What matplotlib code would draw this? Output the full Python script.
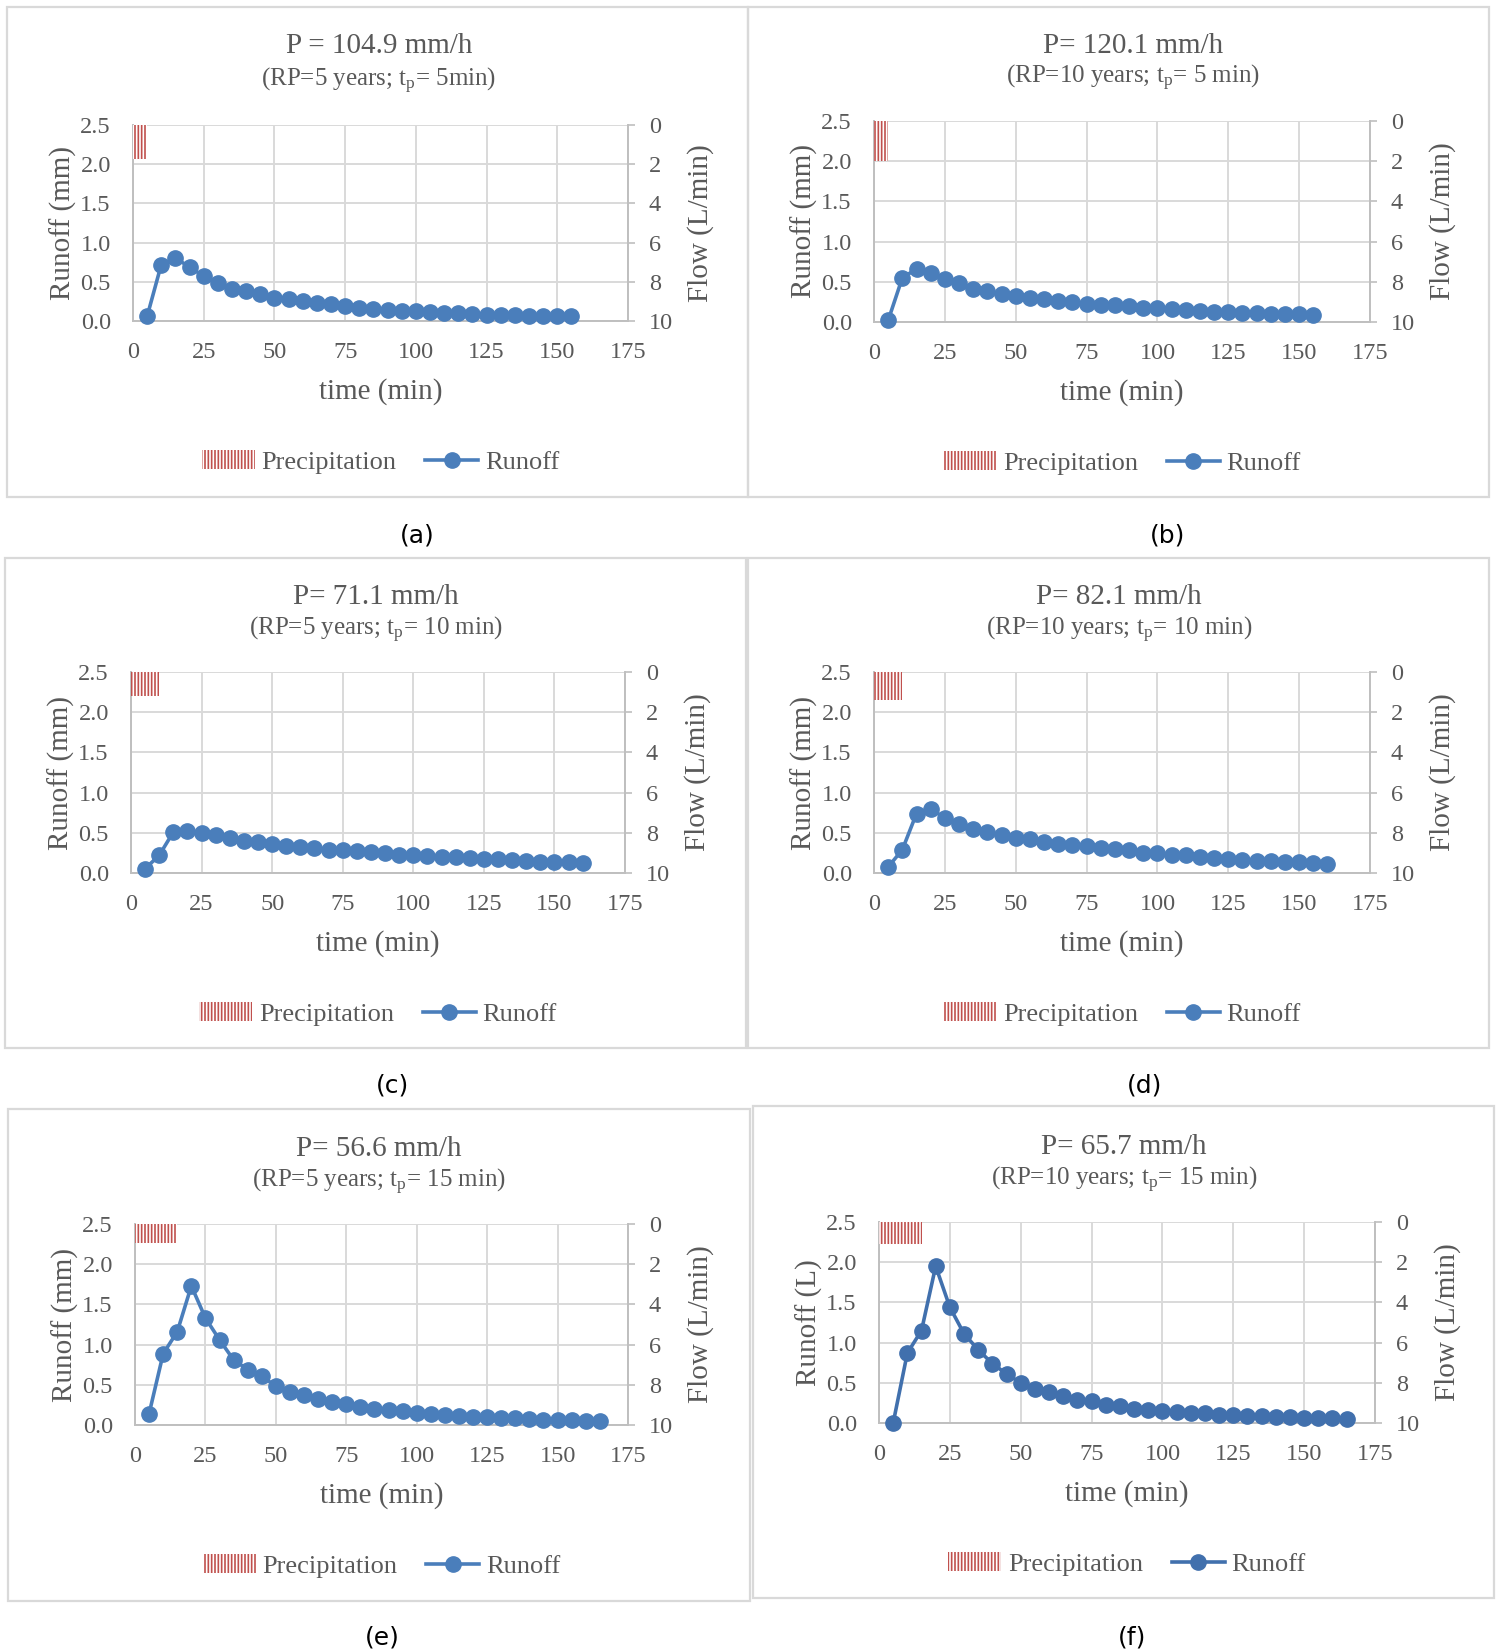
import numpy as np
import matplotlib
matplotlib.use('Agg')
import matplotlib.pyplot as plt
from matplotlib.patches import Rectangle, Patch
from matplotlib.lines import Line2D

plt.rcParams['font.family'] = ['Liberation Serif', 'DejaVu Serif']
plt.rcParams['mathtext.fontset'] = 'custom'
plt.rcParams['mathtext.rm'] = 'Liberation Serif'
plt.rcParams['mathtext.it'] = 'Liberation Serif:italic'
plt.rcParams['hatch.linewidth'] = 1.2

# ---- data ----
letters = ['(a)', '(b)', '(c)', '(d)', '(e)', '(f)']
titles = ['P = 104.9 mm/h', 'P= 120.1 mm/h', 'P= 71.1 mm/h',
          'P= 82.1 mm/h', 'P= 56.6 mm/h', 'P= 65.7 mm/h']
subtitles = ['(RP=5 years; t$_{\\mathrm{p}}$= 5min)',
             '(RP=10 years; t$_{\\mathrm{p}}$= 5 min)',
             '(RP=5 years; t$_{\\mathrm{p}}$= 10 min)',
             '(RP=10 years; t$_{\\mathrm{p}}$= 10 min)',
             '(RP=5 years; t$_{\\mathrm{p}}$= 15 min)',
             '(RP=10 years; t$_{\\mathrm{p}}$= 15 min)']
ylabels = ['Runoff (mm)'] * 5 + ['Runoff (L)']

# precipitation: duration (min) and flow (L/min) on the inverted right axis
rain_duration = [5, 5, 10, 10, 15, 15]
rain_flow = [1.75, 2.0, 1.18, 1.37, 0.94, 1.10]

runoff_a = [0.06, 0.72, 0.80, 0.69, 0.57, 0.48, 0.41, 0.38, 0.34, 0.29, 0.285,
            0.26, 0.225, 0.22, 0.19, 0.166, 0.153, 0.145, 0.13, 0.123, 0.115,
            0.106, 0.098, 0.085, 0.081, 0.077, 0.072, 0.068, 0.064, 0.06, 0.06]
runoff_b = [0.02, 0.55, 0.66, 0.61, 0.54, 0.49, 0.41, 0.38, 0.35, 0.32, 0.30,
            0.28, 0.26, 0.245, 0.23, 0.215, 0.21, 0.195, 0.18, 0.17, 0.16,
            0.15, 0.133, 0.13, 0.12, 0.116, 0.108, 0.104, 0.10, 0.095, 0.09]
runoff_c = [0.054, 0.22, 0.51, 0.52, 0.50, 0.47, 0.44, 0.40, 0.38, 0.36, 0.34,
            0.32, 0.31, 0.29, 0.28, 0.27, 0.26, 0.245, 0.23, 0.224, 0.21, 0.20,
            0.195, 0.187, 0.178, 0.17, 0.158, 0.15, 0.14, 0.137, 0.133, 0.128]
runoff_d = [0.075, 0.29, 0.74, 0.79, 0.69, 0.61, 0.55, 0.51, 0.47, 0.44, 0.42,
            0.385, 0.365, 0.35, 0.33, 0.31, 0.295, 0.28, 0.25, 0.25, 0.23, 0.22,
            0.20, 0.19, 0.18, 0.166, 0.153, 0.145, 0.137, 0.133, 0.124, 0.116]
runoff_e = [0.14, 0.886, 1.16, 1.73, 1.33, 1.06, 0.81, 0.69, 0.61, 0.48, 0.41,
            0.37, 0.325, 0.29, 0.26, 0.23, 0.20, 0.184, 0.17, 0.15, 0.14, 0.127,
            0.114, 0.105, 0.096, 0.088, 0.083, 0.075, 0.066, 0.066, 0.061,
            0.053, 0.053]
runoff_f = [0.0, 0.87, 1.15, 1.95, 1.44, 1.11, 0.91, 0.74, 0.61, 0.50, 0.42,
            0.38, 0.33, 0.29, 0.27, 0.23, 0.21, 0.18, 0.16, 0.15, 0.14, 0.13,
            0.12, 0.105, 0.096, 0.088, 0.083, 0.075, 0.07, 0.066, 0.061, 0.057,
            0.053]
runoffs = [runoff_a, runoff_b, runoff_c, runoff_d, runoff_e, runoff_f]

# ---- layout (pixels of the 1496x1652 canvas) ----
W, H = 1496, 1652
plot_boxes = [(133, 125, 628, 321), (874, 121, 1370, 322),
              (131, 672, 625, 873), (874, 672, 1370, 873),
              (135, 1224, 628, 1425), (879, 1222, 1375, 1423)]
frame_boxes = [(7, 7, 748, 497), (748, 7, 1489, 497),
               (5, 558, 746, 1048), (748, 558, 1489, 1048),
               (8, 1109, 750, 1601), (753, 1106, 1494, 1598)]
title_pos = [(379, 46, 81), (1133, 46, 78), (376, 597, 630),
             (1119, 597, 630), (379, 1149, 1182), (1124, 1147, 1180)]
letter_pos = [(417, 535), (1168, 535), (392, 1086), (1145, 1086),
              (382, 1637), (1132, 1637)]

TEXT = '#595959'
GRID = '#D9D9D9'
AXLINE = '#BFBFBF'
BLUE = '#4A7EBB'
RED = '#C0504D'
line_colors = [BLUE] * 5 + ['#4170AD']

fig = plt.figure(figsize=(W / 100, H / 100), dpi=100)


def fx(px):
    return px / W


def fy(py):
    return 1 - py / H


for i in range(6):
    l, t, r, b = plot_boxes[i]
    ax = fig.add_axes([fx(l), fy(b), (r - l) / W, (b - t) / H])
    ax2 = ax.twinx()
    lc = line_colors[i]

    time = np.arange(5, 5 * len(runoffs[i]) + 1, 5)
    ax.plot(time, runoffs[i], color=lc, lw=2.6, marker='o', ms=11,
            mfc=lc, mec=lc, zorder=3, clip_on=False)
    ax2.bar(0, rain_flow[i], width=rain_duration[i], align='edge',
            facecolor='white', edgecolor=RED, hatch='|||||', linewidth=0)

    ax.set_xlim(0, 175)
    ax.set_ylim(0, 2.5)
    ax.set_xticks(range(0, 176, 25))
    ax.set_yticks(np.arange(0, 2.51, 0.5))
    ax.set_yticklabels([f'{v:.1f}' for v in np.arange(0, 2.51, 0.5)])
    ax2.set_ylim(10, 0)
    ax2.set_yticks(range(0, 11, 2))

    ax.grid(True, color=GRID, lw=1.4)
    ax.set_axisbelow(True)
    for s in ['top', 'right']:
        ax.spines[s].set_visible(False)
    for s in ['top', 'left', 'bottom']:
        ax2.spines[s].set_visible(False)
    ax.spines['left'].set_color(AXLINE)
    ax.spines['bottom'].set_color(AXLINE)
    ax2.spines['right'].set_color(AXLINE)
    for sp in [ax.spines['left'], ax.spines['bottom'], ax2.spines['right']]:
        sp.set_linewidth(1.4)

    ax.tick_params(axis='both', length=0, labelsize=17.5, labelcolor=TEXT)
    ax.tick_params(axis='y', pad=16)
    ax.tick_params(axis='x', pad=15)
    ax2.tick_params(axis='y', length=5, width=1.2, color=AXLINE, pad=10,
                    labelsize=17.5, labelcolor=TEXT)

    h = b - t
    w = r - l
    ax.set_xlabel('time (min)', fontsize=21, color=TEXT)
    ax.xaxis.set_label_coords(0.5, -57 / h)
    ax.set_ylabel(ylabels[i], fontsize=21, color=TEXT)
    ax.yaxis.set_label_coords(-56 / w, 0.5)
    ax2.set_ylabel('Flow (L/min)', fontsize=21, color=TEXT)
    ax2.yaxis.set_label_coords(1 + 59 / w, 0.5)

    handles = [Patch(facecolor='white', edgecolor=RED, hatch='|||||',
                     linewidth=0, label='Precipitation'),
               Line2D([], [], color=lc, lw=2.6, marker='o', ms=11,
                      label='Runoff')]
    leg = ax.legend(handles=handles, loc='center', ncol=2,
                    bbox_to_anchor=(0.5, -141 / h), frameon=False,
                    fontsize=19, handlelength=2.0, handletextpad=0.25,
                    columnspacing=1.1)
    for txt in leg.get_texts():
        txt.set_color(TEXT)

    cx, ty, sy = title_pos[i]
    fig.text(fx(cx), fy(ty), titles[i], ha='center', va='center',
             fontsize=21, color=TEXT)
    fig.text(fx(cx), fy(sy), subtitles[i], ha='center', va='center',
             fontsize=18, color=TEXT)

    lx, ly = letter_pos[i]
    fig.text(fx(lx), fy(ly), letters[i], ha='center', va='center',
             fontsize=18, color='black', family='DejaVu Sans')

    x0, y0, x1, y1 = frame_boxes[i]
    fig.patches.append(Rectangle((fx(x0), fy(y1)), (x1 - x0) / W,
                                 (y1 - y0) / H, transform=fig.transFigure,
                                 fill=False, edgecolor=GRID, lw=1.6))

fig.savefig('out.png', dpi=100, facecolor='white')
